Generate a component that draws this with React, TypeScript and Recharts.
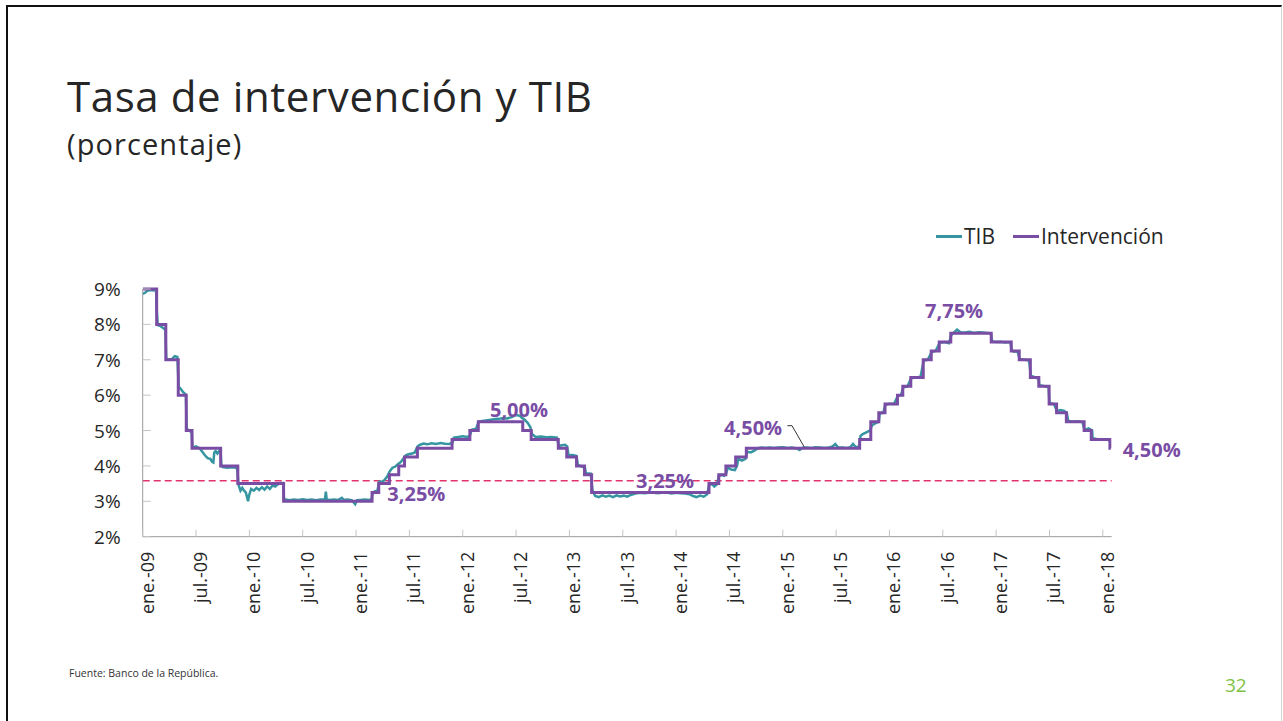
import React from "react";
import { Line, LineChart, ReferenceDot, ReferenceLine, XAxis, YAxis } from "recharts";

const font = "'Open Sans', sans-serif";
const purple = "#7A4DA5";
const teal = "#3596A1";
const dashRed = "#E2336D";

// months since ene.-09
const xTickLabels = [
  "ene.-09", "jul.-09", "ene.-10", "jul.-10", "ene.-11", "jul.-11", "ene.-12", "jul.-12",
  "ene.-13", "jul.-13", "ene.-14", "jul.-14", "ene.-15", "jul.-15", "ene.-16", "jul.-16",
  "ene.-17", "jul.-17", "ene.-18"
];
const yTicks = [2, 3, 4, 5, 6, 7, 8, 9];

const referenceRate = 3.58;

// tasa de intervención: [mes, tasa] at each change
const policyChanges: [number, number][] = [
  [0, 9], [1.57, 8], [2.6, 7], [4.0, 6], [4.9, 5], [5.55, 4.5], [8.77, 4], [10.7, 3.5],
  [15.85, 3], [25.8, 3.25], [26.55, 3.5], [27.75, 3.75], [28.8, 4], [29.45, 4.25], [30.9, 4.5],
  [34.8, 4.75], [36.8, 5], [37.75, 5.25], [42.75, 5], [43.7, 4.75], [46.75, 4.5], [47.7, 4.25],
  [48.8, 4], [49.7, 3.75], [50.5, 3.25], [63.7, 3.5], [64.8, 3.75], [65.6, 4], [66.7, 4.25],
  [67.9, 4.5], [80.65, 4.75], [81.9, 5.25], [82.8, 5.5], [83.5, 5.75], [84.9, 6], [85.5, 6.25],
  [86.4, 6.5], [87.8, 7], [88.7, 7.25], [89.6, 7.5], [90.9, 7.75], [95.45, 7.5], [97.7, 7.25],
  [98.6, 7], [99.85, 6.5], [100.8, 6.25], [101.96, 5.75], [102.8, 5.5], [103.9, 5.25],
  [105.9, 5], [106.7, 4.75], [108.8, 4.5], [108.9, 4.5]
];

// TIB: [mes, tasa]
const tib2009: [number, number][] = [
  [0, 8.86], [0.3, 8.9], [0.5, 8.95], [0.9, 8.97], [1.2, 8.96], [1.5, 8.98], [1.6, 8.3],
  [1.7, 7.98], [2.0, 7.95], [2.3, 7.9], [2.55, 7.85], [2.65, 7.05], [2.8, 7.0], [3.3, 7.02],
  [3.6, 7.1], [3.9, 7.08], [4.05, 6.2], [4.2, 6.2], [4.5, 6.1], [4.85, 6.02], [4.95, 5.05],
  [5.2, 5.0], [5.5, 4.95], [5.6, 4.55], [5.7, 4.52], [6.0, 4.55], [6.4, 4.5], [6.7, 4.4],
  [7.0, 4.3], [7.3, 4.22], [7.6, 4.2], [7.8, 4.12], [7.95, 4.1], [8.05, 4.38], [8.2, 4.42],
  [8.4, 4.35], [8.6, 4.42], [8.75, 4.45], [8.85, 4.02], [9.0, 3.97], [9.5, 3.95], [10.0, 3.96],
  [10.5, 3.95], [10.65, 3.9], [10.75, 3.55], [10.8, 3.45], [11.0, 3.3], [11.2, 3.38],
  [11.4, 3.3], [11.6, 3.25], [11.85, 3.0]
];
const tib2010: [number, number][] = [
  [12.0, 3.2], [12.2, 3.35], [12.5, 3.3], [12.8, 3.38], [13.1, 3.32], [13.4, 3.4], [13.7, 3.33],
  [14.0, 3.42], [14.3, 3.35], [14.6, 3.45], [14.9, 3.42], [15.2, 3.48], [15.5, 3.52],
  [15.8, 3.52], [15.9, 3.05], [16.1, 3.05], [16.5, 3.03], [17, 3.05], [17.5, 3.04], [18, 3.06],
  [18.5, 3.04], [19, 3.05], [19.5, 3.03], [20, 3.05], [20.5, 3.05], [20.6, 3.27], [20.7, 3.05],
  [21, 3.04], [21.5, 3.05], [22, 3.04], [22.4, 3.1], [22.6, 3.04], [23, 3.05], [23.5, 3.03],
  [23.9, 2.92]
];
const tib2011: [number, number][] = [
  [24.1, 3.03], [24.5, 3.04], [25, 3.05], [25.5, 3.04], [25.75, 3.06], [25.85, 3.2],
  [26.1, 3.28], [26.4, 3.3], [26.6, 3.55], [26.9, 3.55], [27.2, 3.6], [27.5, 3.7], [27.8, 3.85],
  [28.1, 3.95], [28.4, 3.98], [28.7, 4.05], [29.0, 4.1], [29.3, 4.2], [29.6, 4.3], [29.9, 4.33],
  [30.3, 4.35], [30.6, 4.38], [30.9, 4.55], [31.2, 4.6], [31.6, 4.63], [32.0, 4.61],
  [32.5, 4.64], [33.0, 4.62], [33.5, 4.65], [34.0, 4.63], [34.5, 4.62], [34.85, 4.66],
  [35.0, 4.8], [35.5, 4.82]
];
const tib2012: [number, number][] = [
  [36.0, 4.84], [36.5, 4.82], [36.8, 4.85], [37.0, 5.02], [37.5, 5.05], [37.8, 5.25],
  [38.2, 5.27], [39, 5.3], [39.5, 5.32], [40, 5.33], [40.5, 5.35], [41, 5.34], [41.5, 5.38],
  [42, 5.44], [42.4, 5.42], [42.7, 5.35], [42.9, 5.32], [43.3, 5.22], [43.6, 5.1], [43.8, 4.9],
  [44.2, 4.82], [44.8, 4.83], [45.4, 4.81], [46, 4.82], [46.6, 4.8], [46.8, 4.55], [47.0, 4.58],
  [47.5, 4.6], [47.75, 4.55], [47.9, 4.3]
];
const tib2013: [number, number][] = [
  [48.4, 4.31], [48.8, 4.28], [48.95, 4.03], [49.4, 3.98], [49.75, 3.95], [49.85, 3.79],
  [50.4, 3.78], [50.6, 3.3], [50.9, 3.15], [51.3, 3.12], [51.7, 3.17], [52.1, 3.13],
  [52.5, 3.16], [52.9, 3.12], [53.3, 3.17], [53.7, 3.14], [54.1, 3.16], [54.5, 3.13],
  [54.9, 3.18], [55.4, 3.22], [56, 3.24], [56.5, 3.23], [57, 3.25], [57.5, 3.24], [58, 3.23],
  [58.5, 3.25], [59, 3.24], [59.5, 3.22]
];
const tib2014: [number, number][] = [
  [60, 3.24], [60.5, 3.23], [61, 3.22], [61.5, 3.2], [61.9, 3.15], [62.3, 3.12], [62.7, 3.16],
  [63.1, 3.13], [63.5, 3.2], [63.7, 3.45], [64.0, 3.5], [64.3, 3.42], [64.6, 3.48], [64.8, 3.7],
  [65.1, 3.75], [65.4, 3.72], [65.65, 3.8], [65.8, 3.95], [66.2, 3.9], [66.6, 3.88],
  [66.85, 4.0], [67.0, 4.2], [67.4, 4.15], [67.8, 4.2], [68.0, 4.4], [68.4, 4.38], [68.8, 4.43],
  [69.2, 4.5], [69.6, 4.52], [70, 4.51], [70.5, 4.52], [71, 4.51], [71.5, 4.52]
];
const tib2015: [number, number][] = [
  [72, 4.53], [72.5, 4.51], [73, 4.52], [73.5, 4.5], [73.9, 4.45], [74.2, 4.51], [74.7, 4.52],
  [75.2, 4.51], [75.7, 4.53], [76.2, 4.52], [76.7, 4.51], [77.2, 4.52], [77.6, 4.55],
  [77.9, 4.62], [78.2, 4.53], [78.7, 4.52], [79.2, 4.51], [79.6, 4.53], [79.9, 4.62],
  [80.2, 4.53], [80.6, 4.55], [80.75, 4.85], [81.0, 4.9], [81.4, 4.95], [81.8, 5.0],
  [82.05, 5.15], [82.4, 5.2], [82.8, 5.25], [82.9, 5.48], [83.3, 5.5], [83.55, 5.73]
];
const tib2016: [number, number][] = [
  [84.0, 5.76], [84.5, 5.75], [84.95, 5.98], [85.3, 6.0], [85.55, 6.22], [86.0, 6.24],
  [86.45, 6.48], [87.0, 6.5], [87.5, 6.52], [87.85, 6.98], [88.3, 7.0], [88.75, 7.22],
  [89.2, 7.25], [89.65, 7.48], [90.2, 7.5], [90.7, 7.47], [90.95, 7.7], [91.3, 7.78],
  [91.6, 7.85], [92, 7.78], [92.5, 7.77], [93, 7.79], [93.5, 7.76], [94, 7.78], [94.5, 7.77],
  [95, 7.76], [95.4, 7.75], [95.55, 7.52]
];
const tib2017: [number, number][] = [
  [96, 7.5], [96.5, 7.51], [97, 7.49], [97.6, 7.5], [97.75, 7.28], [98, 7.23], [98.4, 7.24],
  [98.65, 7.02], [99.2, 7.0], [99.7, 6.98], [99.9, 6.55], [100.4, 6.5], [100.8, 6.45],
  [100.85, 6.28], [101.5, 6.25], [101.9, 6.22], [102.0, 5.78], [102.5, 5.75], [102.85, 5.55],
  [103.2, 5.58], [103.6, 5.56], [103.95, 5.5], [104.1, 5.28], [104.6, 5.25], [105.2, 5.26],
  [105.7, 5.24], [105.95, 5.02], [106.4, 5.06], [106.8, 5.0], [106.85, 4.78], [107.3, 4.76]
];
const tib2018: [number, number][] = [[108, 4.75], [108.5, 4.74], [108.8, 4.72]];

// etiquetas: [mes, tasa, texto]
const rateLabels: [number, number, string][] = [
  [42.33, 5.58, "5,00%"],
  [30.78, 3.21, "3,25%"],
  [58.76, 3.58, "3,25%"],
  [68.66, 5.07, "4,50%"],
  [91.27, 8.38, "7,75%"],
  [113.5, 4.44, "4,50%"]
];

const legendItems = [
  { name: "TIB", color: teal },
  { name: "Intervención", color: purple }
];

const interventionData = policyChanges.map(([m, v]) => ({ m, v }));
const tibData = [
  ...tib2009, ...tib2010, ...tib2011, ...tib2012, ...tib2013,
  ...tib2014, ...tib2015, ...tib2016, ...tib2017, ...tib2018
].map(([m, v]) => ({ m, v }));

function XTick({ x, y, payload }: any) {
  const label = xTickLabels[Math.round(payload.value / 6)];
  return (
    <g>
      <line x1={x} x2={x} y1={y} y2={y - 7} stroke="#c4c4c4" />
      <g transform={`translate(${x + 4},${y + 15})`}>
        <text transform="rotate(-90)" textAnchor="end" dominantBaseline="central" fill="#262626" fontSize={18} fontFamily={font}>
          {label}
        </text>
      </g>
    </g>
  );
}

function YTick({ x, y, payload }: any) {
  return (
    <g>
      <line x1={x} x2={x + 8} y1={y} y2={y} stroke="#c4c4c4" />
      <text x={x - 22} y={y} textAnchor="end" dominantBaseline="central" fill="#262626" fontSize={19} fontFamily={font}>
        {`${payload.value}%`}
      </text>
    </g>
  );
}

function ChartLegend() {
  return (
    <div style={{ position: "absolute", left: 936, top: 222, display: "flex", alignItems: "center", fontFamily: font, fontSize: 21, lineHeight: "28px", color: "#262626", whiteSpace: "nowrap" }}>
      {legendItems.map((item) => (
        <div key={item.name} style={{ display: "flex", alignItems: "center", marginRight: 18 }}>
          <span style={{ display: "inline-block", width: 26, height: 3, background: item.color, marginRight: 2 }} />
          <span>{item.name}</span>
        </div>
      ))}
    </div>
  );
}

export default function App() {
  return (
    <div style={{ position: "absolute", left: 0, top: 0, width: 1283, height: 721, overflow: "hidden", background: "#fff" }}>
      <div
        style={{
          position: "absolute",
          left: 6,
          top: 5,
          width: 1273,
          height: 730,
          borderTop: "2px solid #111",
          borderLeft: "2px solid #111",
          borderRight: "1px solid #d6d6d6"
        }}
      />
      <div style={{ position: "absolute", left: 67, top: 75, fontFamily: font, fontSize: 42, lineHeight: "42px", letterSpacing: 0.6, color: "#262626", whiteSpace: "nowrap" }}>
        Tasa de intervención y TIB
      </div>
      <div style={{ position: "absolute", left: 67, top: 129, fontFamily: font, fontSize: 29, lineHeight: "29px", letterSpacing: 1.1, color: "#262626", whiteSpace: "nowrap" }}>
        (porcentaje)
      </div>
      <div style={{ position: "absolute", left: 69, top: 668, fontFamily: font, fontSize: 10.5, lineHeight: "10.5px", color: "#333", whiteSpace: "nowrap" }}>
        Fuente: Banco de la República.
      </div>
      <div style={{ position: "absolute", left: 1225, top: 676, fontFamily: font, fontSize: 19, lineHeight: "19px", color: "#7DC242" }}>
        32
      </div>
      <ChartLegend />
      <div style={{ position: "absolute", left: 0, top: 0 }}>
        <LineChart
          width={1283}
          height={721}
          margin={{ top: 289, right: 171.3, bottom: 84.3, left: 82.7 }}
        >
          <XAxis
            dataKey="m"
            type="number"
            domain={[0, 109]}
            allowDataOverflow
            ticks={xTickLabels.map((_, i) => i * 6)}
            interval={0}
            height={100}
            tickSize={0}
            tickMargin={0}
            tick={<XTick />}
            stroke="#9a9a9a"
          />
          <YAxis
            type="number"
            domain={[2, 9]}
            ticks={yTicks}
            interval={0}
            width={60}
            tickSize={0}
            tickMargin={0}
            tick={<YTick />}
            stroke="#9a9a9a"
          />
          <ReferenceLine y={referenceRate} stroke={dashRed} strokeWidth={1.5} strokeDasharray="7 4" />
          <Line data={tibData} dataKey="v" name="TIB" type="linear" stroke={teal} strokeWidth={2.5} dot={false} isAnimationActive={false} />
          <Line data={interventionData} dataKey="v" name="Intervención" type="stepAfter" stroke={purple} strokeWidth={3} dot={false} isAnimationActive={false} />
          <ReferenceLine segment={[{ x: 72.52, y: 5.137 }, { x: 73.04, y: 5.137 }]} stroke="#333" strokeWidth={1} />
          <ReferenceLine segment={[{ x: 73.04, y: 5.137 }, { x: 74.43, y: 4.527 }]} stroke="#333" strokeWidth={1} />
          {rateLabels.map(([m, v, text], i) => (
            <ReferenceDot
              key={i}
              x={m}
              y={v}
              r={0}
              fill="none"
              stroke="none"
              ifOverflow="visible"
              label={{ value: text, position: "center", fill: purple, fontSize: 20, fontWeight: 700, fontFamily: font }}
            />
          ))}
        </LineChart>
      </div>
    </div>
  );
}
